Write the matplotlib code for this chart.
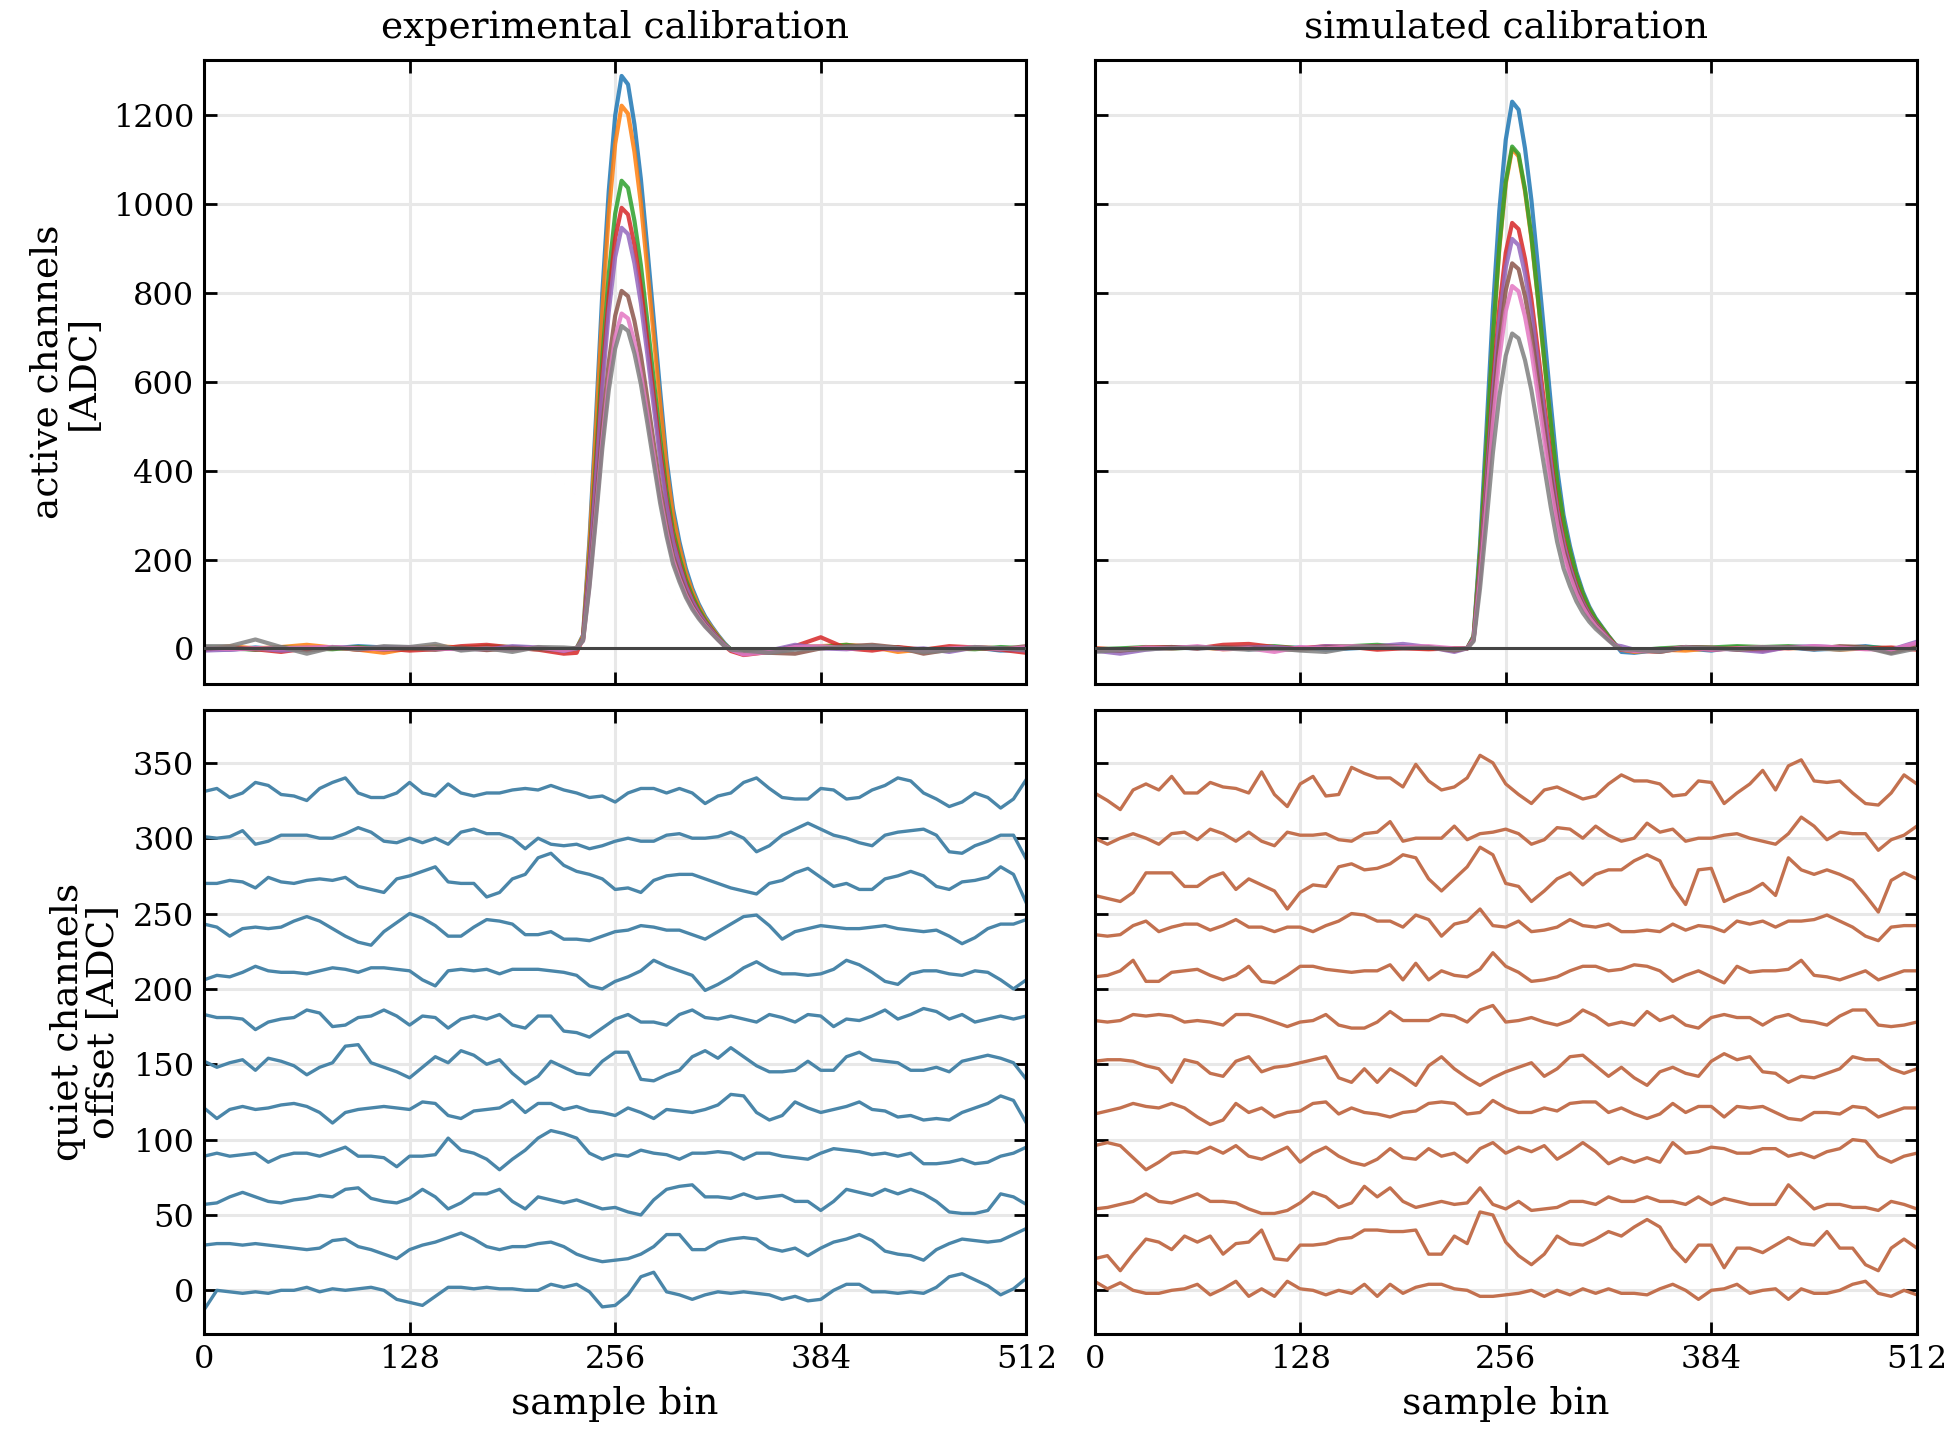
import numpy as np
import matplotlib
matplotlib.use("Agg")
import matplotlib.pyplot as plt

# ---------------- data ----------------
# top row: pulse on active channels, sampled at these bins
TOP_BINS = ([0, 16, 32, 48, 64, 80, 96, 112, 128, 144, 160, 176, 192, 208, 224]
            + list(range(232, 329, 4))
            + [336, 352, 368, 384, 400, 416, 432, 448, 464, 480, 496, 512])

exp_active = {
    "C0": [0, -3, 2, -2, 3, 0, 5, 2, 0, 3, -2, 0, 2, 0, -5,
           0, 30, 245, 515, 800, 1030, 1200, 1289, 1270, 1180, 1057, 902, 741, 580, 425, 315, 240, 180, 135, 100, 72, 50, 30, 12, -3,
           -8, -5, 0, 3, 2, 5, 0, -3, 0, 2, -5, -3],
    "C1": [-2, 5, 0, 3, 8, 2, -3, -10, 0, 5, 2, 3, -2, 0, -6,
           0, 28, 232, 489, 758, 978, 1136, 1222, 1204, 1118, 1002, 855, 703, 550, 405, 300, 228, 170, 128, 95, 68, 47, 28, 10, -3,
           -10, -6, 2, 5, 8, 3, -8, -2, 0, 3, 0, -2],
    "C2": [3, 0, -3, 2, 0, -2, 3, 0, -2, 2, 0, 5, 3, 0, -4,
           0, 24, 200, 421, 653, 842, 979, 1053, 1037, 963, 863, 737, 605, 474, 355, 265, 205, 155, 118, 88, 64, 44, 26, 9, -2,
           -6, -8, 5, 3, 8, 0, 2, -4, 0, -2, 3, 0],
    "C3": [-3, 2, -2, -8, 0, 3, -3, 0, -5, -2, 5, 8, 2, -3, -12,
           -10, 23, 188, 397, 615, 794, 923, 992, 977, 908, 813, 694, 570, 446, 335, 250, 192, 146, 110, 82, 60, 42, 24, 6, -6,
           -15, -8, 5, 25, 0, -5, 3, -3, 5, 2, -3, -10],
    "C4": [-5, -3, 0, -5, -2, 3, 0, 3, 2, -2, 0, -3, 5, 2, -6,
           0, 22, 180, 379, 587, 758, 881, 947, 933, 867, 777, 663, 545, 426, 322, 240, 185, 140, 106, 80, 58, 40, 23, 8, -3,
           -12, -5, 8, 0, -2, 3, -3, 0, -8, 2, 0, -5],
    "C5": [0, 2, -3, 3, -5, 0, 2, -3, 0, -3, 2, -4, 0, -2, -3,
           0, 19, 153, 322, 499, 644, 749, 805, 793, 737, 660, 564, 463, 362, 278, 210, 165, 127, 97, 73, 54, 37, 21, 6, -3,
           -8, -10, -12, 0, 5, 8, 2, -12, -3, 0, -2, 5],
    "C6": [2, -2, 0, 0, 2, 3, 0, -2, 2, 0, -2, 0, -3, 2, -5,
           0, 17, 143, 302, 467, 603, 701, 754, 743, 690, 618, 528, 434, 339, 262, 198, 156, 120, 92, 70, 51, 35, 20, 6, -3,
           -14, -8, 3, 5, 0, 2, 0, -5, 0, 3, -2, 2],
    "C7": [5, 5, 20, 3, -12, 2, -3, 5, 3, 10, -5, 0, -8, 3, 2,
           0, 17, 138, 290, 450, 581, 675, 726, 715, 664, 595, 508, 417, 327, 252, 190, 150, 115, 88, 67, 49, 34, 19, 5, -3,
           -5, -10, -3, 0, 3, 5, 0, -8, -5, 3, 0, -3],
}

sim_active = {
    "C0": [-3, -5, 0, 2, 0, 3, -2, 0, 2, -3, 0, 3, 5, 2, -3,
           0, 28, 234, 492, 763, 985, 1145, 1231, 1213, 1126, 1009, 862, 708, 554, 405, 300, 230, 172, 128, 94, 68, 48, 28, 10, -8,
           -10, -3, 0, -5, 3, 0, 2, -3, 0, 5, -2, 8],
    "C1": [0, -3, 2, 0, 3, -2, 0, 2, 0, 3, 2, 0, 3, 0, -2,
           0, 26, 214, 450, 698, 900, 1046, 1125, 1108, 1029, 923, 788, 647, 506, 375, 285, 218, 164, 122, 90, 65, 46, 27, 9, -3,
           -8, -3, -5, 0, 2, 3, 0, 2, -3, 0, -5, 3],
    "C2": [-2, 0, 3, 0, 2, 0, 3, 5, 0, 2, 5, 8, 3, 0, 0,
           0, 26, 215, 452, 701, 904, 1051, 1130, 1113, 1034, 927, 791, 650, 509, 377, 286, 219, 165, 123, 90, 66, 46, 27, 9, -2,
           -5, 0, 3, 2, 5, 3, 5, 2, 0, 3, 0, 2],
    "C3": [0, -3, 2, 3, 0, 8, 10, 3, 0, 5, 3, -3, 0, -2, 0,
           0, 22, 182, 383, 594, 766, 891, 958, 944, 877, 786, 671, 551, 431, 322, 245, 188, 142, 106, 78, 57, 40, 23, 8, -3,
           -5, -8, 2, -3, 0, -5, 2, 0, 3, 0, 2, -3],
    "C4": [-5, -12, -3, 2, 3, 0, 2, 3, -2, 5, 3, 5, 10, 3, -8,
           0, 21, 175, 369, 572, 738, 857, 922, 908, 844, 756, 645, 530, 415, 310, 236, 182, 137, 103, 76, 55, 39, 22, 7, 5,
           -3, -5, 3, 0, -3, -8, 3, 5, 2, 0, -3, 15],
    "C5": [-3, -5, 0, 3, 0, 2, 0, -2, -3, 2, 3, 5, 3, 2, -5,
           0, 20, 165, 347, 538, 694, 806, 867, 854, 793, 711, 607, 499, 390, 295, 224, 172, 130, 98, 72, 53, 37, 21, 7, -2,
           -5, -3, 3, 2, -3, 0, 3, -2, 5, 3, -10, 5],
    "C6": [-2, -3, 2, 0, 5, -2, 0, -8, 3, 0, 5, 2, 3, 5, 0,
           0, 19, 155, 326, 506, 653, 759, 816, 804, 747, 669, 571, 469, 367, 280, 212, 163, 123, 93, 69, 50, 35, 20, 7, -2,
           -6, -5, 2, -3, 0, 3, 0, 5, 2, -2, -3, 12],
    "C7": [-8, -3, -2, 0, 2, 0, -3, 0, -5, -8, 2, 3, 0, 2, -3,
           0, 16, 135, 284, 440, 567, 659, 709, 698, 649, 581, 496, 408, 319, 240, 180, 140, 106, 80, 60, 44, 31, 18, 6, -2,
           -3, -8, 2, 0, -2, 3, 2, 0, -3, 2, -12, 0],
}

# bottom row: quiet channels, deviation from their offset, every 8 bins
QUIET_BINS = list(range(0, 513, 8))
offsets = [330, 300, 270, 240, 210, 180, 150, 120, 90, 60, 30, 0]

exp_quiet = [
    [1, 3, -3, 0, 7, 5, -1, -2, -5, 3, 7, 10, 0, -3, -3, 0, 7, 0, -2, 6, 0, -2, 0, 0, 2, 3, 2, 5, 2, 0, -3, -2, -6,
     0, 3, 3, 0, 3, 0, -7, -2, 0, 7, 10, 3, -3, -4, -4, 3, 2, -4, -3, 2, 5, 10, 8, 0, -4, -9, -6, 0, -3, -10, -4, 9],
    [1, 0, 1, 5, -4, -2, 2, 2, 2, 0, 0, 3, 7, 4, -2, -3, 0, -3, 0, -4, 4, 6, 3, 3, 0, -7, 0, -4, -5, -4, -7, -5, -2,
     0, -2, -2, 2, 3, 0, 0, 1, 4, 0, -9, -5, 2, 6, 10, 6, 2, 0, -3, -5, 2, 4, 5, 6, 2, -9, -10, -5, -2, 2, 2, -14],
    [0, 0, 2, 1, -3, 4, 1, 0, 2, 3, 2, 4, -2, -4, -6, 3, 5, 8, 11, 1, 0, 0, -9, -6, 3, 6, 17, 20, 12, 8, 6, 3, -4,
     -3, -6, 2, 5, 6, 6, 3, 0, -3, -5, -7, 0, 2, 7, 10, 4, -2, 0, -4, -4, 3, 5, 8, 5, -2, -4, 1, 2, 4, 11, 6, -13],
    [3, 1, -5, 0, 1, 0, 1, 5, 8, 5, 0, -5, -9, -11, -2, 4, 10, 7, 2, -5, -5, 1, 6, 5, 3, -4, -4, -2, -7, -7, -8, -5, -2,
     -1, 2, 1, -1, -1, -4, -7, -2, 3, 8, 9, 2, -7, -2, 0, 2, 1, 0, 0, 1, 2, 0, -1, -2, -1, -5, -10, -6, 0, 3, 3, 6],
    [-4, -1, -2, 1, 5, 2, 1, 1, 0, 2, 4, 3, 1, 4, 4, 3, 2, -4, -8, 2, 3, 2, 3, 0, 3, 3, 3, 2, 1, -1, -8, -10, -5,
     -2, 2, 9, 5, 2, -1, -11, -7, -2, 4, 8, 3, 0, 0, -1, 0, 3, 9, 6, 1, -5, -7, 0, 2, 2, 0, -1, 2, 1, -4, -10, -4],
    [3, 1, 1, 0, -7, -2, 0, 1, 6, 4, -5, -4, 1, 2, 6, 2, -4, 2, 1, -6, 0, 2, 0, 3, -4, -6, 2, 2, -8, -9, -12, -6, 0,
     3, -2, -2, -4, 3, 6, 1, 0, 2, 0, -2, 3, 1, -2, 3, 2, -5, 0, -1, 2, 6, 0, 3, 7, 5, 0, 3, -2, 0, 2, 0, 2],
    [2, -2, 1, 3, -4, 4, 2, -1, -7, -2, 1, 12, 13, 1, -2, -5, -9, -2, 5, 1, 9, 6, 0, 3, -6, -13, -8, 2, -2, -6, -7, 2, 8,
     8, -10, -11, -7, -4, 5, 9, 4, 11, 5, -1, -5, -5, -4, 2, -4, -4, 5, 8, 3, 2, 1, -4, -4, -2, -5, 2, 4, 6, 4, 1, -10],
    [1, -6, 0, 2, 0, 1, 3, 4, 2, -2, -9, -2, 0, 1, 2, 1, 0, 5, 4, -4, -6, -1, 0, 1, 6, -2, 4, 4, 0, 2, -1, -2, -4,
     1, -2, -6, 0, -1, -2, 0, 3, 10, 9, -2, -7, -4, 5, 1, -2, 0, 2, 5, 0, -1, -5, -4, -7, -6, -7, -2, 1, 4, 9, 6, -9],
    [-1, 1, -1, 0, 1, -5, -1, 1, 1, -1, 2, 5, -1, -1, -2, -8, -1, -1, 0, 11, 3, 1, -3, -10, -3, 3, 11, 16, 14, 11, 1, -3, 0,
     -1, 3, 1, 0, -3, 1, 1, 2, 1, -3, 1, 1, -1, -2, -3, 1, 4, 3, 2, 0, 1, -1, 1, -6, -6, -5, -3, -6, -5, -1, 1, 5],
    [-3, -2, 2, 5, 2, -1, -2, 0, 1, 3, 2, 7, 8, 1, -1, -2, 1, 7, 2, -6, -2, 4, 4, 7, -1, -6, 2, 0, -2, 0, -3, -6, -5,
     -8, -10, 0, 7, 9, 10, 2, 2, 1, 4, 1, 2, 3, -1, -1, -7, -1, 7, 5, 3, 7, 4, 7, 4, -1, -8, -9, -9, -7, 4, 2, -3],
    [0, 1, 1, 0, 1, 0, -1, -2, -3, -2, 3, 4, -1, -3, -6, -9, -3, 0, 2, 5, 8, 4, -1, -3, -1, -1, 1, 2, -1, -6, -9, -11, -10,
     -9, -6, -1, 7, 7, -3, -3, 2, 4, 5, 4, -2, -4, -2, -7, -2, 2, 4, 7, 3, -4, -6, -7, -10, -3, 1, 4, 3, 2, 3, 7, 11],
    [-13, 0, -1, -2, -1, -2, 0, 0, 2, -1, 1, 0, 1, 2, 0, -6, -8, -10, -4, 2, 2, 1, 2, 1, 1, 0, 0, 4, 2, 4, -1, -11, -10,
     -3, 9, 12, -1, -3, -6, -3, -1, -2, -1, -2, -3, -6, -4, -7, -6, 0, 4, 4, -1, -1, -2, -1, -2, 2, 9, 11, 7, 3, -3, 1, 8],
]

sim_quiet = [
    [0, -5, -11, 2, 6, 2, 11, 0, 0, 7, 4, 3, 0, 14, -1, -9, 6, 11, -2, -1, 17, 13, 10, 10, 4, 19, 8, 2, 4, 10, 25, 20, 6,
     -1, -7, 2, 4, 0, -4, -2, 6, 12, 8, 8, 6, -2, -1, 8, 7, -7, 0, 6, 15, 2, 18, 22, 8, 7, 8, 0, -7, -8, 0, 12, 6],
    [0, -4, 0, 3, 0, -4, 3, 4, -1, 6, 3, -2, 4, -2, -5, 4, 2, 2, 3, -1, -2, 3, 4, 11, -2, 0, 0, 0, 8, -1, 3, 4, 6,
     3, -4, -1, 7, 6, 0, 8, 2, -2, 0, 10, 4, 6, -2, 0, 0, 2, 3, 0, -2, -4, 3, 14, 8, -1, 4, 3, 3, -8, -1, 2, 8],
    [-8, -10, -12, -6, 7, 7, 7, -2, -2, 4, 7, -4, 3, -1, -5, -17, -6, -1, -2, 11, 13, 9, 10, 13, 19, 17, 3, -5, 3, 11, 24, 19, 0,
     -2, -12, -5, 3, 7, -1, 6, 9, 9, 15, 19, 15, -2, -14, 9, 10, -12, -8, -5, 0, -8, 17, 9, 6, 9, 6, 2, -8, -19, 2, 7, 3],
    [-4, -5, -4, 2, 5, -2, 1, 3, 3, -1, 2, 6, 1, 1, -2, 1, 1, -2, 2, 5, 10, 9, 5, 5, 1, 9, 6, -5, 3, 5, 13, 2, 1,
     5, -2, -1, 1, 6, 2, 1, 3, -2, -2, -1, -2, 3, -1, 2, 1, -2, 5, 3, 5, 1, 5, 5, 6, 9, 5, 1, -5, -8, 1, 2, 2],
    [-2, -1, 2, 9, -5, -5, 1, 2, 3, -1, -4, -1, 5, -5, -6, -1, 5, 5, 3, 2, 1, 2, 2, 6, -4, 7, -4, 2, -1, -2, 3, 14, 5,
     1, -5, -4, -2, 2, 5, 5, 2, 3, 6, 5, 2, -5, -1, 2, -2, -6, 5, 1, 2, 2, 3, 9, -1, -2, -4, -1, 2, -4, -1, 2, 2],
    [-1, -2, -1, 3, 2, 3, 2, -2, -1, -2, -4, 3, 3, 1, -2, -5, -2, -1, 3, -4, -6, -6, -2, 5, -1, -1, -1, 3, 2, -2, 6, 9, -2,
     -1, 1, -2, -4, -1, 6, 2, -4, -2, -4, 5, -1, 2, -4, -6, 1, 3, 1, 1, -4, 1, 3, -1, -2, -4, 2, 6, 6, -4, -5, -4, -2],
    [2, 3, 3, 2, -1, -3, -12, 3, 1, -6, -8, 2, 5, -5, -2, -1, 1, 3, 5, -9, -12, -3, -12, -3, -8, -14, -1, 5, -3, -9, -14, -9, -5,
     -2, 1, -8, -3, 5, 6, -1, -8, -2, -9, -14, -5, -2, -6, -8, 2, 7, 3, 5, -5, -6, -12, -8, -9, -6, -3, 5, 3, 3, -3, -6, -3],
    [-3, -1, 1, 4, 2, 1, 4, 1, -5, -10, -7, 4, -2, 1, -5, -2, -1, 4, 5, -3, 1, -2, -3, -5, -2, -1, 4, 5, 4, -3, -2, 6, 1,
     -2, -2, 1, -1, 4, 5, 5, -2, 1, -3, -6, -3, 4, -2, 2, 2, -5, 2, 1, 2, -2, -6, -7, -2, -2, -3, 2, 1, -5, -2, 1, 1],
    [6, 8, 6, -2, -10, -5, 1, 2, 1, 5, 1, 6, -1, -3, 1, 5, -5, 1, 5, -1, -5, -7, -3, 4, -2, -3, 4, -1, 1, -5, 4, 8, 1,
     5, 2, 6, -3, 2, 8, 2, -6, -2, -5, -2, -5, 8, 1, 2, 5, 4, 1, 1, 4, 4, -1, 1, -2, 2, 4, 10, 9, -1, -5, -1, 1],
    [-6, -5, -3, -1, 4, -1, -2, 1, 4, -1, -1, -2, -6, -9, -9, -7, -2, 5, 2, -5, -2, 9, 2, 8, -1, -5, -3, -1, -3, -2, 8, -3, -6,
     -1, -7, -6, -5, -1, -1, -3, 2, -1, -1, 2, -1, -1, -3, 2, -3, 1, -1, -3, -3, -3, 10, 2, -6, -3, -3, -5, -5, -7, -1, -3, -6],
    [-9, -7, -17, -6, 4, 2, -3, 6, 2, 6, -6, 1, 2, 10, -9, -10, 0, 0, 1, 4, 5, 10, 10, 9, 9, 10, -6, -6, 6, 1, 22, 20, 2,
     -7, -13, -6, 6, 1, 0, 4, 9, 6, 12, 17, 12, -2, -11, 0, 0, -15, -2, -2, -5, 0, 5, 1, 0, 9, -2, -2, -13, -17, -2, 4, -2],
    [6, 1, 5, 0, -2, -2, 0, 1, 4, -3, 1, 6, -4, 1, -4, 6, 1, 0, -3, 0, -2, 4, -4, 4, -2, 2, 4, 4, 1, 0, -4, -4, -3,
     -2, 0, -4, 0, -3, 1, -2, 1, -2, -2, -3, 1, 4, 0, -6, 0, 1, 4, -2, 0, 1, -6, 1, -2, -2, 0, 4, 6, -2, -4, 0, -3],
]

titles = ["experimental calibration", "simulated calibration"]
xticks = [0, 128, 256, 384, 512]

# ---------------- style ----------------
plt.rcParams["font.family"] = ["DejaVu Serif"]
plt.rcParams["xtick.direction"] = "in"
plt.rcParams["ytick.direction"] = "in"
plt.rcParams["xtick.top"] = True
plt.rcParams["ytick.right"] = True
plt.rcParams["xtick.major.size"] = 4.5
plt.rcParams["ytick.major.size"] = 4.5
plt.rcParams["xtick.major.width"] = 1.0
plt.rcParams["ytick.major.width"] = 1.0
plt.rcParams["axes.linewidth"] = 1.1
plt.rcParams["xtick.labelsize"] = 11.5
plt.rcParams["ytick.labelsize"] = 11.5

fig = plt.figure(figsize=(9.79, 7.225), dpi=200)
gs = fig.add_gridspec(2, 2, left=0.1042, right=0.979, top=0.9585, bottom=0.0768,
                      wspace=0.083, hspace=0.042)
ax_tl = fig.add_subplot(gs[0, 0])
ax_tr = fig.add_subplot(gs[0, 1], sharey=ax_tl)
ax_bl = fig.add_subplot(gs[1, 0], sharex=ax_tl)
ax_br = fig.add_subplot(gs[1, 1], sharey=ax_bl)

quiet_colors = ["#4a86a9", "#c3714f"]

for ax, traces in [(ax_tl, exp_active), (ax_tr, sim_active)]:
    for col, vals in traces.items():
        ax.plot(TOP_BINS, vals, color=col, lw=1.5, alpha=0.85)
    ax.axhline(0, color="#444444", lw=1.1, zorder=5)
    ax.set_ylim(-80, 1325)
    ax.set_yticks([0, 200, 400, 600, 800, 1000, 1200])

for ax, traces, col in [(ax_bl, exp_quiet, quiet_colors[0]), (ax_br, sim_quiet, quiet_colors[1])]:
    for off, dev in zip(offsets, traces):
        ax.plot(QUIET_BINS, np.array(dev) + off, color=col, lw=1.2)
    ax.set_ylim(-29, 385)
    ax.set_yticks([0, 50, 100, 150, 200, 250, 300, 350])
    ax.set_xlabel("sample bin", fontsize=13.5)

for ax in [ax_tl, ax_tr, ax_bl, ax_br]:
    ax.set_xlim(0, 512)
    ax.set_xticks(xticks)
    ax.grid(True, color="#e8e8e8", lw=1.1)
    ax.set_axisbelow(True)

ax_tl.tick_params(labelbottom=False)
ax_tr.tick_params(labelbottom=False, labelleft=False)
ax_br.tick_params(labelleft=False)

ax_tl.set_title(titles[0], fontsize=13.5, pad=8)
ax_tr.set_title(titles[1], fontsize=13.5, pad=8)
ax_tl.set_ylabel("active channels\n[ADC]", fontsize=13.5, linespacing=1.0)
ax_bl.set_ylabel("quiet channels\noffset [ADC]", fontsize=13.5, linespacing=1.0)

fig.savefig("out.png", dpi=200)
